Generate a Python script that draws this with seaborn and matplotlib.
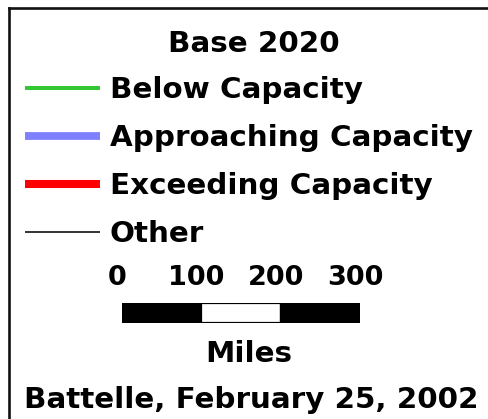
#### Legend panel for the Base 2020 capacity map

import pandas as pd
import numpy as np
from matplotlib import pyplot as plt
from matplotlib.transforms import ScaledTranslation
import seaborn as sns

##### Legend data

title = 'Base 2020'
categories = ['Below Capacity', 'Approaching Capacity', 'Exceeding Capacity', 'Other']
colors = ['#33c833', '#8080ff', '#ff0000', '#222222']
widths = [2.9, 5.6, 5.8, 1.3]

scale_miles = [0, 100, 200, 300]
scale_labels = ['0', '100', '200', '300']
scale_fill = ['black', 'white', 'black']
scale_unit = 'Miles'

credit = 'Battelle, February 25, 2002'

##### Style

sns.set_theme(style='white')
plt.rcParams['font.family'] = ['DejaVu Sans']
plt.rcParams['font.weight'] = 'bold'
plt.rcParams['text.color'] = 'black'
plt.rcParams['lines.solid_capstyle'] = 'butt'

fig = plt.figure(figsize=(4.89, 4.19), dpi=100)

# main panel: x in handle lengths, y in legend rows
ax = fig.add_axes([9.2 / 489, 0, 1 - 9.2 / 489, 1 - 8.3 / 419])
ax.set_xlim(-0.2107, 6.1867)
ax.set_ylim(6.896, -1.660)

rows = pd.DataFrame({
    'category': np.repeat(categories, 2),
    'x': [0, 1] * len(categories),
    'row': np.repeat(np.arange(len(categories)), 2),
})
sns.lineplot(data=rows, x='x', y='row', hue='category', palette=dict(zip(categories, colors)),
             size='category', sizes=dict(zip(categories, widths)),
             estimator=None, sort=False, legend=False, ax=ax)

for i, name in enumerate(categories):
    ax.text(1.133, i + 10.5 / 48, name, fontsize=21.2, fontweight='bold', va='baseline', color='black')

ax.set_xticks([])
ax.set_yticks([])
ax.set_xlabel('')
ax.set_ylabel('')
sns.despine(ax=ax, top=False, left=False, right=True, bottom=True)
for side in ['top', 'left']:
    ax.spines[side].set_linewidth(1.9)
    ax.spines[side].set_color('#111111')

fig.text(254 / 489, 1 - 51.5 / 419, title, ha='center', va='baseline', fontsize=21.2,
         fontweight='bold', color='black')

##### Scale bar

ax2 = fig.add_axes([122 / 489, (419 - 323) / 419, 238 / 489, 20 / 419])
ax2.barh(0, np.diff(scale_miles), left=scale_miles[:-1], height=1, color=scale_fill,
         edgecolor='black', linewidth=1.6)
ax2.set_xlim(scale_miles[0], scale_miles[-1])
ax2.set_ylim(-0.5, 0.5)
ax2.xaxis.tick_top()
ax2.set_xticks(scale_miles)
ax2.set_xticklabels(scale_labels, fontsize=19.5, fontweight='bold', color='black')
ax2.tick_params(axis='x', length=0, pad=8.6)
ax2.set_yticks([])
ax2.set_xlabel(scale_unit, fontsize=21.2, fontweight='bold', color='black')
ax2.xaxis.set_label_position('bottom')
ax2.xaxis.set_label_coords(0.534, -0.85)
for s in ax2.spines.values():
    s.set_visible(False)

# numbers sit a little left of the bar divisions
shift = ScaledTranslation(-5 / 100, 0, fig.dpi_scale_trans)
for lbl in ax2.get_xticklabels():
    lbl.set_transform(lbl.get_transform() + shift)

fig.text(251 / 489, 1 - 408 / 419, credit, ha='center', va='baseline', fontsize=21.2,
         fontweight='bold', color='black')

plt.savefig('out.png', dpi=100)
